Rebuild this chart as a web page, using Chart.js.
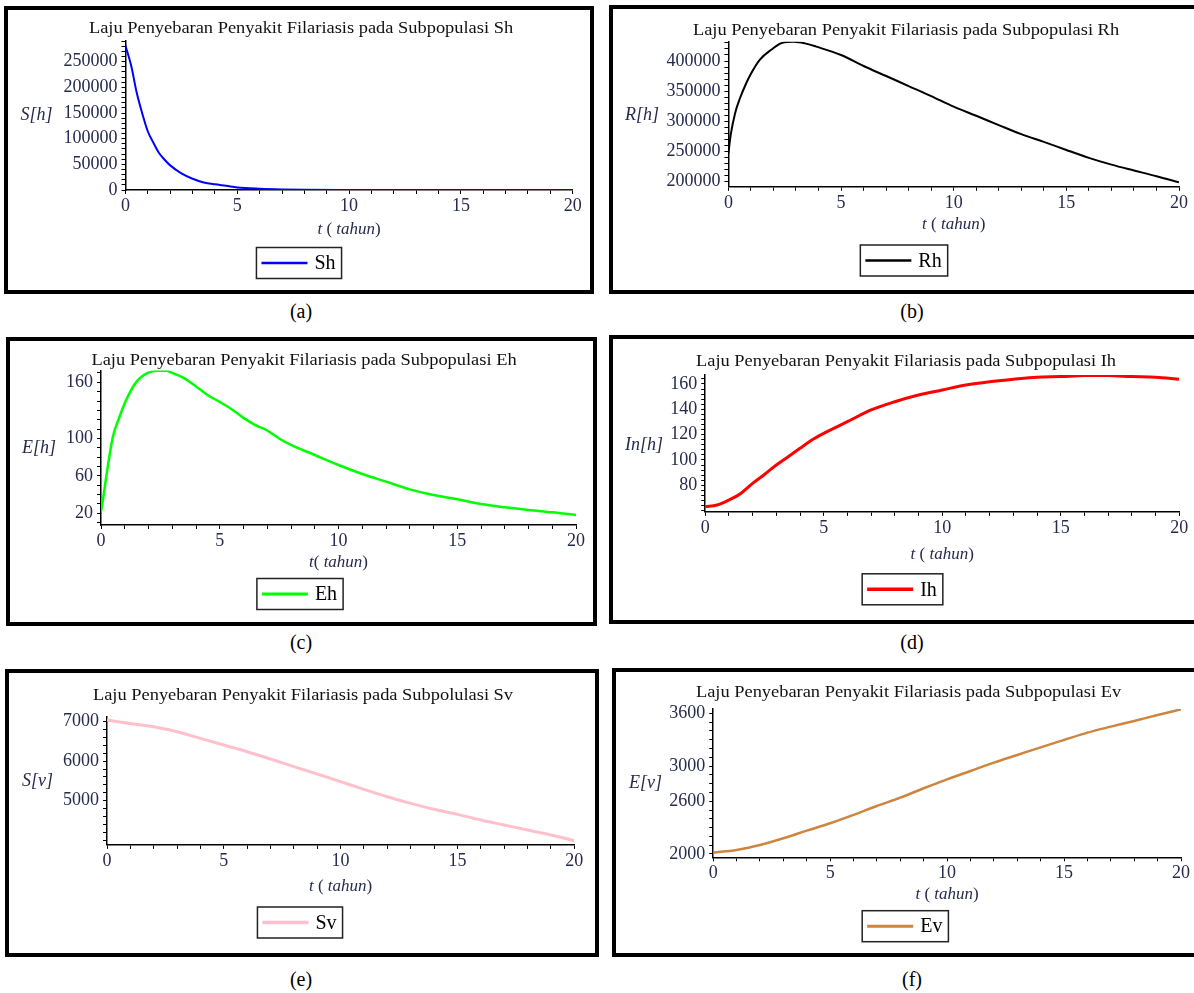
<!DOCTYPE html>
<html>
<head>
<meta charset="utf-8">
<title>Laju Penyebaran Penyakit Filariasis</title>
<script src="https://cdn.jsdelivr.net/npm/chart.js@4.4.1/dist/chart.umd.min.js"></script>
<style>
  html, body { margin: 0; padding: 0; background: #fff; }
  #page { position: relative; width: 1194px; height: 993px; overflow: hidden; }
  #page canvas { position: absolute; }
  .box { position: absolute; box-sizing: border-box; border: 4px solid #000; pointer-events: none; }
  .cap { position: absolute; font: 20px "Liberation Serif", serif; color: #000; transform: translate(-50%, -50%); white-space: nowrap; }
</style>
</head>
<body>
<div id="page"></div>
<script>
// Data (t in tahun)
const xTicks = [0, 1, 2, 3, 4, 5, 6, 7, 8, 9, 10, 11, 12, 13, 14, 15, 16, 17, 18, 19, 20];
const xTickLabels = [0, 5, 10, 15, 20];

const tSh = [0, 0.25, 0.5, 0.75, 1, 1.25, 1.5, 1.75, 2, 2.5, 3, 3.5, 4, 4.5, 5, 6, 7, 8, 10, 12, 15, 20];
const Sh = [281000, 243000, 190000, 149000, 114000, 92000, 72000, 59000, 48000, 32500, 22000, 14800, 11000, 8200, 5000, 2500, 1200, 600, 200, 80, 20, 5];
const ShLabels = [0, 50000, 100000, 150000, 200000, 250000];

const tRh = [0, 0.1, 0.3, 0.5, 0.8, 1, 1.4, 1.9, 2.4, 2.9, 3.4, 3.9, 5, 6, 7, 8, 9, 10, 11, 12, 13, 14, 15, 16, 17, 18, 19, 20];
const Rh = [247000, 277000, 314000, 337000, 364000, 379000, 402400, 418600, 430400, 432000, 429200, 423800, 410000, 391700, 375100, 358500, 341900, 324300, 309200, 293800, 278800, 266000, 252500, 239500, 228200, 218500, 209100, 198900];
const RhLabels = [200000, 250000, 300000, 350000, 400000];

const tEh = [0, 0.1, 0.25, 0.5, 0.75, 1, 1.25, 1.5, 1.75, 2, 2.25, 2.5, 2.75, 3, 3.5, 4, 4.5, 5, 5.5, 6, 6.5, 7, 7.5, 8, 9, 10, 11, 12, 13, 14, 15, 16, 17, 18, 19, 20];
const Eh = [21.7, 37.7, 64, 101.9, 121, 137.5, 150.9, 160.7, 166.6, 170.3, 172, 172.3, 172.4, 170, 164.5, 155.5, 146.2, 139, 131.2, 122, 114.2, 108.5, 100, 93, 82.3, 71.6, 62, 53.8, 45.6, 39.6, 35, 29.9, 26.4, 23.5, 21.1, 18.2];
const EhLabels = [20, 60, 100, 160];

const tIh = [0, 0.5, 1, 1.5, 2, 2.5, 3, 3.5, 4, 4.5, 5, 6, 7, 8, 9, 10, 11, 12, 13, 14, 15, 16, 17, 18, 19, 20];
const Ih = [63.1, 64.4, 68.4, 73.6, 81.5, 88.5, 96.0, 102.6, 109.2, 115.8, 121.0, 130.2, 139.5, 146.0, 151.3, 155.3, 159.2, 161.8, 163.7, 165.3, 165.8, 166.6, 166.6, 165.8, 165.3, 163.7];
const IhLabels = [80, 100, 120, 140, 160];

const tVec = [0, 1, 2, 3, 4, 5, 6, 7, 8, 9, 10, 11, 12, 13, 14, 15, 16, 17, 18, 19, 20];
const Sv = [7042, 6958, 6873, 6747, 6578, 6409, 6240, 6055, 5861, 5675, 5481, 5287, 5101, 4932, 4781, 4654, 4511, 4384, 4257, 4131, 3987];
const SvLabels = [5000, 6000, 7000];

const Ev = [2015, 2045, 2102, 2178, 2265, 2349, 2444, 2546, 2641, 2747, 2849, 2944, 3039, 3126, 3213, 3297, 3380, 3448, 3513, 3581, 3645];
const EvLabels = [2000, 2600, 3000, 3600];

Chart.defaults.font.family = '"Liberation Serif", "Times New Roman", serif';

const textColor = '#262a4d';

// Draws the Maple-style title, horizontal y label, x axis title and boxed legend
const panelText = {
    id: 'panelText',
    afterDraw(chart, args, o) {
        const ctx = chart.ctx;
        const ds = chart.data.datasets[0];
        ctx.save();
        ctx.translate(-o.ox, -o.oy);

        // title, slightly stretched like the original
        ctx.font = '16px "Liberation Serif"';
        ctx.fillStyle = '#111';
        ctx.textAlign = 'center';
        ctx.textBaseline = 'alphabetic';
        ctx.save();
        ctx.translate(o.titleX, o.titleY);
        ctx.scale(1.15, 1);
        ctx.fillText(o.title, 0, 0);
        ctx.restore();

        // y label
        ctx.font = 'italic 18px "Liberation Serif"';
        ctx.fillStyle = textColor;
        ctx.textBaseline = 'middle';
        ctx.fillText(o.yLabel, o.yLabelX, o.yLabelY);

        // x axis title, italic parts mixed with upright brackets
        const parts = o.xTitle;
        let total = 0;
        const widths = parts.map(p => {
            ctx.font = (p[1] ? 'italic ' : '') + '17px "Liberation Serif"';
            const w = ctx.measureText(p[0]).width;
            total += w;
            return w;
        });
        const xArea = chart.chartArea;
        let x = (xArea.left + xArea.right) / 2 + o.ox - total / 2;
        ctx.textAlign = 'left';
        parts.forEach((p, i) => {
            ctx.font = (p[1] ? 'italic ' : '') + '17px "Liberation Serif"';
            ctx.fillText(p[0], x, o.xTitleY);
            x += widths[i];
        });

        // legend box
        ctx.font = '20px "Liberation Serif"';
        const tw = ctx.measureText(ds.label).width;
        const bw = 5 + 46 + 7 + tw + 6;
        const bh = 31;
        const lx = o.legendX - bw / 2;
        const ly = o.legendY - bh / 2;
        ctx.strokeStyle = '#222';
        ctx.lineWidth = 1.5;
        ctx.strokeRect(lx, ly, bw, bh);
        ctx.strokeStyle = ds.borderColor;
        ctx.lineWidth = ds.borderWidth + 0.5;
        ctx.beginPath();
        ctx.moveTo(lx + 5, o.legendY);
        ctx.lineTo(lx + 51, o.legendY);
        ctx.stroke();
        ctx.fillStyle = '#000';
        ctx.fillText(ds.label, lx + 58, o.legendY + 1);

        ctx.restore();
    }
};

function makePanel(p) {
    const page = document.getElementById('page');
    const [bx0, by0, bx1, by1] = p.box;
    const [px0, py0, px1, py1] = p.plot;

    const cv = document.createElement('canvas');
    cv.width = bx1 - bx0;
    cv.height = by1 - by0;
    cv.style.left = bx0 + 'px';
    cv.style.top = by0 + 'px';
    page.appendChild(cv);

    const frame = document.createElement('div');
    frame.className = 'box';
    frame.style.left = bx0 + 'px';
    frame.style.top = by0 + 'px';
    frame.style.width = (bx1 - bx0) + 'px';
    frame.style.height = (by1 - by0) + 'px';
    page.appendChild(frame);

    const cap = document.createElement('div');
    cap.className = 'cap';
    cap.textContent = p.caption;
    cap.style.left = p.capX + 'px';
    cap.style.top = p.capY + 'px';
    page.appendChild(cap);

    // minor ticks plus the labelled ones
    const yTicks = [];
    for (let v = Math.ceil(p.ymin / p.yStep) * p.yStep; v <= p.ymax; v += p.yStep) yTicks.push(Math.round(v * 100) / 100);
    p.yLabels.forEach(v => { if (!yTicks.includes(v)) yTicks.push(v); });

    const tickStyle = { color: textColor, font: { size: 18 } };

    new Chart(cv, {
        type: 'line',
        data: {
            datasets: [{
                label: p.name,
                data: p.t.map((t, i) => ({ x: t, y: p.v[i] })),
                borderColor: p.color,
                borderWidth: p.width,
                pointRadius: 0,
                cubicInterpolationMode: 'monotone',
                fill: false
            }]
        },
        options: {
            responsive: false,
            animation: false,
            layout: { padding: { left: 0, bottom: 0, top: py0 - by0, right: bx1 - px1 } },
            plugins: {
                legend: { display: false },
                title: { display: false },
                tooltip: { enabled: false },
                panelText: {
                    ox: bx0, oy: by0,
                    title: p.title, titleX: p.titleX, titleY: p.titleY,
                    yLabel: p.yLabel, yLabelX: p.yLabelX, yLabelY: p.yLabelY,
                    xTitle: p.xTitle, xTitleY: p.xTitleY,
                    legendX: p.legendX, legendY: p.legendY
                }
            },
            scales: {
                x: {
                    type: 'linear',
                    min: 0,
                    max: 20,
                    afterBuildTicks: s => { s.ticks = xTicks.map(v => ({ value: v })); },
                    afterFit: s => { s.height = by1 - py1; },
                    ticks: Object.assign({
                        autoSkip: false,
                        maxRotation: 0,
                        padding: 1.5,
                        callback: v => xTickLabels.includes(v) ? String(v) : ''
                    }, tickStyle),
                    grid: { display: true, drawOnChartArea: false, drawTicks: true, tickLength: 4, tickColor: '#000', tickWidth: 1 },
                    border: { display: true, color: '#000', width: 1.5 }
                },
                y: {
                    type: 'linear',
                    min: p.ymin,
                    max: p.ymax,
                    afterBuildTicks: s => { s.ticks = yTicks.map(v => ({ value: v })); },
                    afterFit: s => { s.width = px0 - bx0; },
                    ticks: Object.assign({
                        autoSkip: false,
                        padding: 4,
                        callback: v => p.yLabels.includes(v) ? String(v) : ''
                    }, tickStyle),
                    grid: { display: true, drawOnChartArea: false, drawTicks: true, tickLength: 4, tickColor: '#000', tickWidth: 1 },
                    border: { display: true, color: '#000', width: 1.5 }
                }
            }
        },
        plugins: [panelText]
    });
}

const xTitleSpaced = [['t', true], [' ( ', false], ['tahun', true], [')', false]];
const xTitleTight = [['t', true], ['( ', false], ['tahun', true], [')', false]];

makePanel({
    name: 'Sh', t: tSh, v: Sh, color: '#0000ff', width: 2,
    ymin: 0, ymax: 290000, yStep: 10000, yLabels: ShLabels,
    box: [4, 6, 594, 294], plot: [125.5, 41.2, 572.7, 190],
    title: 'Laju Penyebaran Penyakit Filariasis pada Subpopulasi Sh', titleX: 301, titleY: 33,
    yLabel: 'S[h]', yLabelX: 36.5, yLabelY: 115,
    xTitle: xTitleSpaced, xTitleY: 230,
    legendX: 299, legendY: 263,
    caption: '(a)', capX: 301, capY: 311
});

makePanel({
    name: 'Rh', t: tRh, v: Rh, color: '#000000', width: 2,
    ymin: 191500, ymax: 432000, yStep: 10000, yLabels: RhLabels,
    box: [609, 5, 1200, 294], plot: [728.4, 41.7, 1179, 186.8],
    title: 'Laju Penyebaran Penyakit Filariasis pada Subpopulasi Rh', titleX: 906, titleY: 35,
    yLabel: 'R[h]', yLabelX: 642, yLabelY: 115,
    xTitle: xTitleSpaced, xTitleY: 225,
    legendX: 904, legendY: 260.5,
    caption: '(b)', capX: 912, capY: 311
});

makePanel({
    name: 'Eh', t: tEh, v: Eh, color: '#00ff00', width: 2.5,
    ymin: 7.5, ymax: 172.5, yStep: 10, yLabels: EhLabels,
    box: [6, 337, 597, 626], plot: [101, 370.6, 576, 525],
    title: 'Laju Penyebaran Penyakit Filariasis pada Subpopulasi Eh', titleX: 304, titleY: 365,
    yLabel: 'E[h]', yLabelX: 39, yLabelY: 448,
    xTitle: xTitleTight, xTitleY: 563,
    legendX: 300, legendY: 594,
    caption: '(c)', capX: 301, capY: 641.5
});

makePanel({
    name: 'Ih', t: tIh, v: Ih, color: '#ff0000', width: 3,
    ymin: 59, ymax: 167, yStep: 4, yLabels: IhLabels,
    box: [609, 335, 1200, 624], plot: [705.2, 375.1, 1179.2, 511.9],
    title: 'Laju Penyebaran Penyakit Filariasis pada Subpopulasi Ih', titleX: 906, titleY: 366,
    yLabel: 'In[h]', yLabelX: 644, yLabelY: 445,
    xTitle: xTitleSpaced, xTitleY: 555,
    legendX: 902.5, legendY: 589.3,
    caption: '(d)', capX: 912, capY: 641.5
});

makePanel({
    name: 'Sv', t: tVec, v: Sv, color: '#ffc0cb', width: 3,
    ymin: 3880, ymax: 7130, yStep: 200, yLabels: SvLabels,
    box: [5, 669, 599, 957], plot: [107, 716.6, 574.2, 844.9],
    title: 'Laju Penyebaran Penyakit Filariasis pada Subpolulasi Sv', titleX: 303, titleY: 700,
    yLabel: 'S[v]', yLabelX: 37.5, yLabelY: 781.7,
    xTitle: xTitleSpaced, xTitleY: 886.7,
    legendX: 300, legendY: 922.5,
    caption: '(e)', capX: 301, capY: 979
});

makePanel({
    name: 'Ev', t: tVec, v: Ev, color: '#cd853f', width: 2.5,
    ymin: 1962, ymax: 3650, yStep: 100, yLabels: EvLabels,
    box: [612, 668, 1200, 957], plot: [713.2, 708.9, 1181, 857.3],
    title: 'Laju Penyebaran Penyakit Filariasis pada Subpopulasi Ev', titleX: 908.5, titleY: 697,
    yLabel: 'E[v]', yLabelX: 645.5, yLabelY: 783.3,
    xTitle: xTitleSpaced, xTitleY: 895,
    legendX: 905.3, legendY: 926.2,
    caption: '(f)', capX: 912, capY: 979
});
</script>
</body>
</html>
